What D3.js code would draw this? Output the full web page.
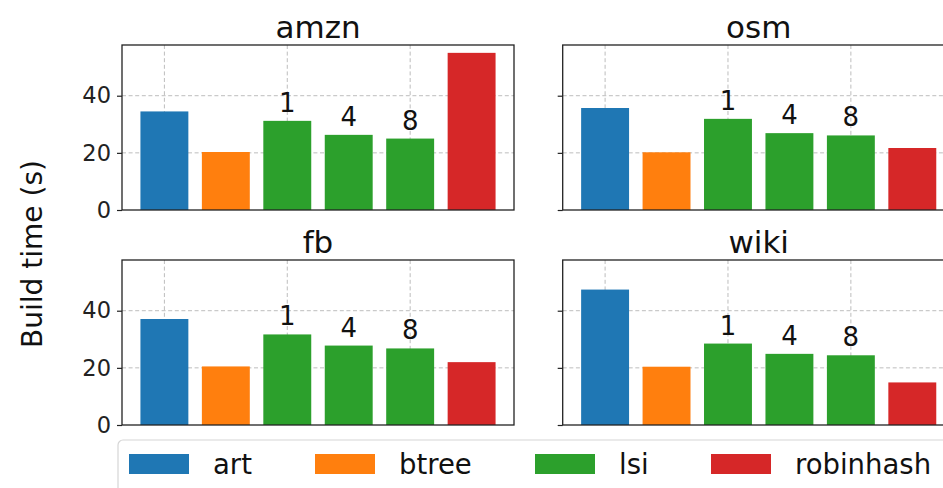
<!DOCTYPE html>
<html>
<head>
<meta charset="utf-8">
<script src="https://cdn.jsdelivr.net/npm/d3@7"></script>
<style>
  html, body { margin: 0; padding: 0; background: #fff; }
  svg { display: block; font-family: "DejaVu Sans", sans-serif; }
</style>
</head>
<body>
<svg id="chart" width="943" height="488"></svg>
<script>
// Build time (seconds) per index structure, one array per dataset
const datasets = ["amzn", "osm", "fb", "wiki"];
const methods = ["art", "btree", "lsi", "lsi", "lsi", "robinhash"];
const barLabels = ["", "", "1", "4", "8", ""];
const amzn = [34.5, 20.3, 31.2, 26.3, 25.0, 55.0];
const osm  = [35.7, 20.2, 31.9, 26.9, 26.1, 21.7];
const fb   = [37.1, 20.5, 31.7, 27.8, 26.8, 22.0];
const wiki = [47.4, 20.4, 28.5, 24.9, 24.4, 14.9];
const yTicks = [0, 20, 40];
const xGrid = [0, 2, 4];
const legendItems = ["art", "btree", "lsi", "robinhash"];

const values = { amzn, osm, fb, wiki };
const colors = { art: "#1f77b4", btree: "#ff7f0e", lsi: "#2ca02c", robinhash: "#d62728" };

const svg = d3.select("#chart");

// Panel grid: 2 columns x 2 rows, shared y range
const colX = [122, 562.7];
const rowY = [45, 260];
const panelW = 392, panelH = 165;
const allVals = [].concat(amzn, osm, fb, wiki);
const yMax = d3.max(allVals) * 1.05;

const x = d3.scaleLinear().domain([-0.69, 5.69]).range([0, panelW]);
const y = d3.scaleLinear().domain([0, yMax]).range([panelH, 0]);
const halfBar = 0.39;

datasets.forEach((name, k) => {
  const col = k % 2, row = Math.floor(k / 2);
  const g = svg.append("g").attr("transform", `translate(${colX[col]},${rowY[row]})`);
  const data = values[name].map((v, i) => ({ v, i, m: methods[i], lab: barLabels[i] }));

  // grid lines
  g.append("g").selectAll("line.h").data(yTicks.filter(t => t > 0)).join("line")
    .attr("x1", 0).attr("x2", panelW)
    .attr("y1", d => y(d)).attr("y2", d => y(d))
    .attr("stroke", "#bdbdbd").attr("stroke-width", 1).attr("stroke-dasharray", "4,2.6");
  g.append("g").selectAll("line.v").data(xGrid).join("line")
    .attr("x1", d => x(d)).attr("x2", d => x(d))
    .attr("y1", 0).attr("y2", panelH)
    .attr("stroke", "#bdbdbd").attr("stroke-width", 1).attr("stroke-dasharray", "4,2.6");

  // bars
  g.append("g").selectAll("rect").data(data).join("rect")
    .attr("x", d => x(d.i - halfBar))
    .attr("width", d => x(d.i + halfBar) - x(d.i - halfBar))
    .attr("y", d => y(d.v))
    .attr("height", d => y(0) - y(d.v))
    .attr("fill", d => colors[d.m]);

  // thread-count labels above lsi bars
  g.append("g").selectAll("text").data(data.filter(d => d.lab)).join("text")
    .attr("x", d => x(d.i))
    .attr("y", d => y(d.v) - 9)
    .attr("text-anchor", "middle")
    .attr("font-size", 26)
    .attr("fill", "#111")
    .text(d => d.lab);

  // y axis (labels only on left column)
  const axis = d3.axisLeft(y).tickValues(yTicks).tickSize(5).tickPadding(6)
    .tickFormat(col === 0 ? d3.format("d") : () => "");
  const ag = g.append("g").call(axis);
  ag.select(".domain").remove();
  ag.selectAll(".tick line").attr("stroke", "#222").attr("stroke-width", 1.2);
  ag.selectAll(".tick text").attr("font-size", 22.5).attr("fill", "#222")
    .attr("font-family", "DejaVu Sans, sans-serif");

  // frame
  g.append("rect").attr("x", 0).attr("y", 0).attr("width", panelW).attr("height", panelH)
    .attr("fill", "none").attr("stroke", "#222").attr("stroke-width", 1.3);

  // title
  g.append("text").attr("x", panelW / 2).attr("y", -7)
    .attr("text-anchor", "middle").attr("font-size", 31).attr("fill", "#111")
    .text(name);
});

// shared y-axis label
svg.append("text")
  .attr("transform", "translate(42,254) rotate(-90)")
  .attr("text-anchor", "middle").attr("font-size", 28).attr("fill", "#111")
  .text("Build time (s)");

// legend
const lg = svg.append("g");
lg.append("rect").attr("x", 118).attr("y", 440).attr("width", 900).attr("height", 80)
  .attr("rx", 5).attr("fill", "#fff").attr("stroke", "#d6d6d6").attr("stroke-width", 1.2);
const legendX = [129, 315, 535, 711];
const item = lg.selectAll("g.item").data(legendItems).join("g")
  .attr("transform", (d, i) => `translate(${legendX[i]},454)`);
item.append("rect").attr("width", 60).attr("height", 20).attr("fill", d => colors[d]);
item.append("text").attr("x", 84).attr("y", 20).attr("font-size", 27.5).attr("fill", "#111")
  .text(d => d);
</script>
</body>
</html>
